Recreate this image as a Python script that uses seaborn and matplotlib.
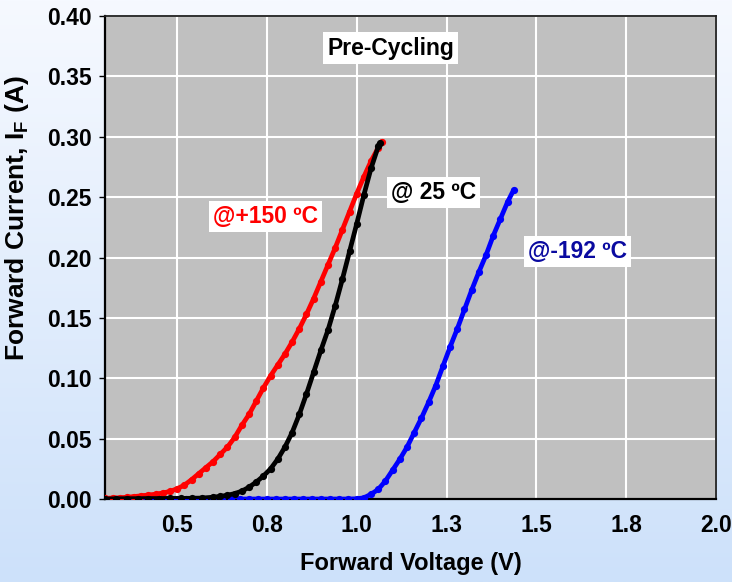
import numpy as np
import pandas as pd
import matplotlib
matplotlib.use("Agg")
import matplotlib.pyplot as plt
from matplotlib.colors import LinearSegmentedColormap
import seaborn as sns

# ---------------- data ----------------
red_v = [0.30, 0.32, 0.34, 0.36, 0.38, 0.40, 0.42, 0.44, 0.46, 0.48, 0.50, 0.52, 0.54,
         0.56, 0.58, 0.60, 0.62, 0.64, 0.66, 0.68, 0.70, 0.72, 0.74, 0.76, 0.78, 0.80,
         0.82, 0.84, 0.86, 0.88, 0.90, 0.92, 0.94, 0.96, 0.98, 1.00, 1.02, 1.04, 1.06, 1.07]
red_i = [0.0005, 0.0008, 0.0010, 0.0015, 0.0020, 0.0027, 0.0033, 0.0040, 0.0050, 0.0063,
         0.0085, 0.0115, 0.0160, 0.0210, 0.0260, 0.0310, 0.0370, 0.0430, 0.0510, 0.0610,
         0.0700, 0.0810, 0.0920, 0.1020, 0.1110, 0.1200, 0.1300, 0.1410, 0.1530, 0.1660,
         0.1800, 0.1940, 0.2080, 0.2230, 0.2380, 0.2530, 0.2670, 0.2800, 0.2910, 0.2960]

black_v = [0.30, 0.33, 0.36, 0.39, 0.42, 0.45, 0.48, 0.51, 0.54, 0.57, 0.60, 0.62, 0.64,
           0.66, 0.68, 0.70, 0.72, 0.74, 0.76, 0.78, 0.80, 0.82, 0.84, 0.86, 0.88, 0.90,
           0.92, 0.94, 0.96, 0.98, 1.00, 1.02, 1.04, 1.06, 1.065]
black_i = [0.0000, 0.0002, 0.0003, 0.0003, 0.0004, 0.0004, 0.0005, 0.0005, 0.0006, 0.0008,
           0.0015, 0.0022, 0.0031, 0.0045, 0.0065, 0.0098, 0.0140, 0.0190, 0.0250, 0.0330,
           0.0430, 0.0550, 0.0700, 0.0870, 0.1050, 0.1230, 0.1400, 0.1600, 0.1820, 0.2050,
           0.2280, 0.2520, 0.2740, 0.2920, 0.2950]

blue_v = [0.300, 0.325, 0.350, 0.375, 0.400, 0.425, 0.450, 0.475, 0.500, 0.525, 0.550,
          0.575, 0.600, 0.625, 0.650, 0.675, 0.700, 0.725, 0.750, 0.775, 0.800, 0.825,
          0.850, 0.875, 0.900, 0.925, 0.950, 0.975, 1.000, 1.02, 1.04, 1.06, 1.08, 1.10,
          1.12, 1.14, 1.16, 1.18, 1.20, 1.22, 1.24, 1.26, 1.28, 1.30, 1.32, 1.34, 1.36,
          1.38, 1.40, 1.42, 1.437]
blue_i = [0.0, 0.0, 0.0, 0.0, 0.0, 0.0, 0.0, 0.0, 0.0, 0.0, 0.0,
          0.0, 0.0, 0.0, 0.0, 0.0, 0.0, 0.0, 0.0, 0.0, 0.0, 0.0,
          0.0, 0.0, 0.0, 0.0, 0.0, 0.0, 0.0002, 0.001, 0.004, 0.008, 0.015, 0.024,
          0.033, 0.043, 0.055, 0.067, 0.080, 0.094, 0.110, 0.126, 0.141, 0.157, 0.173,
          0.188, 0.202, 0.218, 0.232, 0.246, 0.256]

x_ticks = [0.5, 0.75, 1.0, 1.25, 1.5, 1.75, 2.0]
x_tick_labels = ["0.5", "0.8", "1.0", "1.3", "1.5", "1.8", "2.0"]
y_ticks = [0.00, 0.05, 0.10, 0.15, 0.20, 0.25, 0.30, 0.35, 0.40]
y_tick_labels = ["0.00", "0.05", "0.10", "0.15", "0.20", "0.25", "0.30", "0.35", "0.40"]

series_names = ["@-192 ºC", "@+150 ºC", "@ 25 ºC"]
series_colors = ["#0000ff", "#ff0000", "#000000"]
label_colors = ["#0a0aa0", "#ff0000", "#000000"]

df = pd.concat([
    pd.DataFrame({"V": blue_v, "I": blue_i, "series": series_names[0]}),
    pd.DataFrame({"V": red_v, "I": red_i, "series": series_names[1]}),
    pd.DataFrame({"V": black_v, "I": black_i, "series": series_names[2]}),
], ignore_index=True)

# ---------------- style ----------------
sns.set_theme(style="white")
plt.rcParams["font.family"] = ["Liberation Sans", "DejaVu Sans"]
plt.rcParams["font.weight"] = "bold"
plt.rcParams["mathtext.fontset"] = "custom"
plt.rcParams["mathtext.bf"] = "Liberation Sans:bold"
plt.rcParams["mathtext.rm"] = "Liberation Sans:bold"

fig = plt.figure(figsize=(7.32, 5.82), dpi=100)

# background gradient
bg = fig.add_axes([0, 0, 1, 1], zorder=0)
grad = np.linspace(0, 1, 256).reshape(-1, 1)
cmap = LinearSegmentedColormap.from_list("bg", ["#f6f9ff", "#cde1fa"])
bg.imshow(grad, aspect="auto", cmap=cmap, extent=[0, 1, 0, 1], origin="upper")
bg.set_axis_off()

ax = fig.add_axes([0.1439, 0.1426, 0.8341, 0.8299], zorder=1)
ax.set_facecolor("#c0c0c0")

for name, col in zip(series_names, series_colors):
    sub = df[df["series"] == name]
    sns.lineplot(data=sub, x="V", y="I", ax=ax, color=col, linewidth=3.4,
                 marker="o", markersize=5.2, markeredgewidth=0, sort=False,
                 estimator=None, legend=False, zorder=3)

ax.set_xlim(0.3, 2.0)
ax.set_ylim(0.0, 0.4)
ax.set_xticks(x_ticks)
ax.set_xticklabels(x_tick_labels)
ax.set_yticks(y_ticks)
ax.set_yticklabels(y_tick_labels)
ax.grid(True, color="white", linewidth=1.5, zorder=0)
ax.set_axisbelow(True)

for lab in ax.get_xticklabels() + ax.get_yticklabels():
    lab.set_fontsize(16.5)
    lab.set_fontweight("bold")
    lab.set_color("black")

ax.tick_params(axis="y", which="major", left=True, length=4, width=1, color="black",
               direction="out", pad=6)
ax.tick_params(axis="x", which="major", bottom=False, length=0, pad=11)

for sp in ax.spines.values():
    sp.set_color("#202020")
    sp.set_linewidth(1.3)
ax.spines["left"].set_color("black")
ax.spines["bottom"].set_color("black")
ax.spines["left"].set_linewidth(1.6)
ax.spines["bottom"].set_linewidth(1.6)

ax.set_xlabel("Forward Voltage (V)", fontsize=17, fontweight="bold", color="black")
ax.xaxis.set_label_coords(0.5, -0.110)
ax.set_ylabel(r"Forward Current, I$_\mathbf{F}$ (A)", fontsize=19,
              fontweight="bold", color="black")
ax.yaxis.set_label_coords(-0.122, 0.582)

box = dict(boxstyle="square,pad=0.18", facecolor="white", edgecolor="none")
ax.text(1.094, 0.3735, "Pre-Cycling", fontsize=16.5, fontweight="bold", color="black",
        ha="center", va="center", bbox=box, zorder=5)
ax.text(0.746, 0.2338, series_names[1], fontsize=16.5, fontweight="bold",
        color=label_colors[1], ha="center", va="center", bbox=box, zorder=5)
ax.text(1.213, 0.254, series_names[2], fontsize=16.5, fontweight="bold",
        color=label_colors[2], ha="center", va="center", bbox=box, zorder=5)
ax.text(1.615, 0.2047, series_names[0], fontsize=16.5, fontweight="bold",
        color=label_colors[0], ha="center", va="center", bbox=box, zorder=5)

fig.savefig("out.png", dpi=100)
